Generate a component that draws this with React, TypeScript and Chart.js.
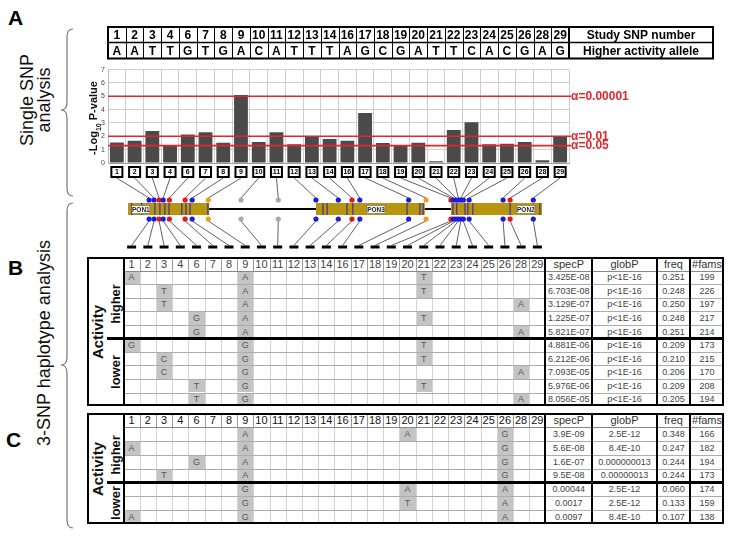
import React, { useEffect, useRef } from 'react';
import { Chart, registerables } from 'chart.js';
Chart.register(...registerables);

// ---------- data ----------
const snpNumbers = ['1','2','3','4','6','7','8','9','10','11','12','13','14','16','17','18','19','20','21','22','23','24','25','26','28','29'];
const higherAlleles = ['A','A','T','T','G','T','G','A','C','A','T','T','T','A','G','C','G','A','T','T','C','A','C','G','A','G'];
const negLogP = [1.53,1.66,2.39,1.3,2.13,2.3,1.52,5.1,1.57,2.3,1.4,2.0,1.79,1.66,3.74,1.5,1.33,1.52,0.13,2.47,3.05,1.4,1.45,1.57,0.2,2.0];
const thresholds = [5, 2, 1.30103];
const alphaLabels = ['α=0.00001', 'α=0.01', 'α=0.05'];
const yTicks = [0,1,2,3,4,5,6,7];

// gene diagram (positions in diagram units 0..1000)
const genes = [
  { name: 'PON1', start: 0, end: 196, label: 31 },
  { name: 'PON3', start: 454, end: 717, label: 599 },
  { name: 'PON2', start: 780, end: 1000, label: 961 },
];
const exonPos = [9,33,65,77,89,99,130,140,150,193,471,481,529,543,674,705,713,785,794,814,821,833,923,995];
const snpGenePos = [51,63,75,85,100,138,155,194,273,363,454,508,541,560,678,720,780,786,792,798,804,810,824,906,923,979];
const snpColor = ['b','b','r','b','r','r','b','o','g','g','b','b','r','b','b','o','r','b','b','b','b','b','b','b','r','b'];

type Haplo = { a: Record<string, string>; specP: string; globP: string; freq: string; fams: string };
const bHigher: Haplo[] = [
  { a: { '1': 'A', '9': 'A', '21': 'T' }, specP: '3.425E-08', globP: 'p<1E-16', freq: '0.251', fams: '199' },
  { a: { '3': 'T', '9': 'A', '21': 'T' }, specP: '6.703E-08', globP: 'p<1E-16', freq: '0.248', fams: '226' },
  { a: { '3': 'T', '9': 'A', '28': 'A' }, specP: '3.129E-07', globP: 'p<1E-16', freq: '0.250', fams: '197' },
  { a: { '6': 'G', '9': 'A', '21': 'T' }, specP: '1.225E-07', globP: 'p<1E-16', freq: '0.248', fams: '217' },
  { a: { '6': 'G', '9': 'A', '28': 'A' }, specP: '5.821E-07', globP: 'p<1E-16', freq: '0.251', fams: '214' },
];
const bLower: Haplo[] = [
  { a: { '1': 'G', '9': 'G', '21': 'T' }, specP: '4.881E-06', globP: 'p<1E-16', freq: '0.209', fams: '173' },
  { a: { '3': 'C', '9': 'G', '21': 'T' }, specP: '6.212E-06', globP: 'p<1E-16', freq: '0.210', fams: '215' },
  { a: { '3': 'C', '9': 'G', '28': 'A' }, specP: '7.093E-05', globP: 'p<1E-16', freq: '0.206', fams: '170' },
  { a: { '6': 'T', '9': 'G', '21': 'T' }, specP: '5.976E-06', globP: 'p<1E-16', freq: '0.209', fams: '208' },
  { a: { '6': 'T', '9': 'G', '28': 'A' }, specP: '8.056E-05', globP: 'p<1E-16', freq: '0.205', fams: '194' },
];
const cHigher: Haplo[] = [
  { a: { '9': 'A', '20': 'A', '26': 'G' }, specP: '3.9E-09', globP: '2.5E-12', freq: '0.348', fams: '166' },
  { a: { '1': 'A', '9': 'A', '26': 'G' }, specP: '5.6E-08', globP: '8.4E-10', freq: '0.247', fams: '182' },
  { a: { '6': 'G', '9': 'A', '26': 'G' }, specP: '1.6E-07', globP: '0.000000013', freq: '0.244', fams: '194' },
  { a: { '3': 'T', '9': 'A', '26': 'G' }, specP: '9.5E-08', globP: '0.00000013', freq: '0.244', fams: '173' },
];
const cLower: Haplo[] = [
  { a: { '9': 'G', '20': 'A', '26': 'A' }, specP: '0.00044', globP: '2.5E-12', freq: '0.060', fams: '174' },
  { a: { '9': 'G', '20': 'T', '26': 'A' }, specP: '0.0017', globP: '2.5E-12', freq: '0.133', fams: '159' },
  { a: { '1': 'A', '9': 'G', '26': 'A' }, specP: '0.0097', globP: '8.4E-10', freq: '0.107', fams: '138' },
];
const statHeaders = ['specP', 'globP', 'freq', '#fams'];

// ---------- layout ----------
const CANVAS_TOP = 20;
const TL = 123.5;   // haplotype table SNP area left
const CW = 16.23;   // haplotype table column width
const T_LEFT = 87;
const T_RIGHT = 724;
const STAT_EDGES = [TL + CW * 26, 592, 657, 690, T_RIGHT];
const GENE_L = 128, GENE_R = 542;
const DOT_COLORS: Record<string, string> = { b: '#1c1cd8', r: '#e01818', o: '#f79a1e', g: '#a9a9a9' };

const overlayPlugin = {
  id: 'overlay',
  afterDatasetsDraw(chart: any) {
    const { ctx, chartArea, scales } = chart;
    const y = scales.y;
    ctx.save();
    thresholds.forEach((t, i) => {
      const py = y.getPixelForValue(t);
      ctx.strokeStyle = '#e3262d';
      ctx.lineWidth = 1.6;
      ctx.beginPath();
      ctx.moveTo(chartArea.left, py);
      ctx.lineTo(chartArea.right + 2, py);
      ctx.stroke();
      ctx.fillStyle = '#e3262d';
      ctx.font = 'bold 12px Arial';
      ctx.textBaseline = 'middle';
      ctx.textAlign = 'left';
      ctx.fillText(alphaLabels[i], chartArea.right + 2, py);
    });
    ctx.restore();
  },
  afterDraw(chart: any) {
    const { ctx, chartArea, scales } = chart;
    const x = scales.x;
    const n = snpNumbers.length;
    const cw = (chartArea.right - chartArea.left) / n;
    ctx.save();
    // ---- top table ----
    const t0 = 27 - CANVAS_TOP, t1 = 42.5 - CANVAS_TOP, t2 = 58.5 - CANVAS_TOP;
    const tRight = chartArea.right + 144;
    ctx.fillStyle = '#fff';
    ctx.fillRect(chartArea.left, t0, tRight - chartArea.left, t2 - t0);
    ctx.strokeStyle = '#000';
    ctx.lineWidth = 1;
    for (let i = 1; i < n; i++) {
      const lx = Math.round(chartArea.left + i * cw) + 0.5;
      ctx.beginPath(); ctx.moveTo(lx, t0); ctx.lineTo(lx, t2); ctx.stroke();
    }
    ctx.lineWidth = 1.5;
    ctx.beginPath(); ctx.moveTo(chartArea.left, t1); ctx.lineTo(tRight, t1); ctx.stroke();
    ctx.lineWidth = 2;
    ctx.beginPath(); ctx.moveTo(chartArea.right, t0); ctx.lineTo(chartArea.right, t2); ctx.stroke();
    ctx.strokeRect(chartArea.left, t0, tRight - chartArea.left, t2 - t0);
    ctx.fillStyle = '#000';
    ctx.textAlign = 'center';
    ctx.textBaseline = 'middle';
    ctx.font = 'bold 12px Arial';
    for (let i = 0; i < n; i++) {
      const cx = x.getPixelForValue(i);
      ctx.fillText(snpNumbers[i], cx, (t0 + t1) / 2 + 1);
      ctx.fillText(higherAlleles[i], cx, (t1 + t2) / 2 + 1);
    }
    const lc = (chartArea.right + tRight) / 2;
    ctx.font = 'bold 12px Arial';
    ctx.fillText('Study SNP number', lc, (t0 + t1) / 2 + 1);
    ctx.fillText('Higher activity allele', lc, (t1 + t2) / 2 + 1);

    // ---- y axis title ----
    ctx.save();
    ctx.translate(93, 118 - CANVAS_TOP);
    ctx.rotate(-Math.PI / 2);
    ctx.font = 'bold 11px Arial';
    const w1 = ctx.measureText('-Log').width;
    const w3 = ctx.measureText(' P-value').width;
    ctx.font = 'bold 7px Arial';
    const w2 = ctx.measureText('10').width;
    let sx = -(w1 + w2 + w3) / 2;
    ctx.textAlign = 'left';
    ctx.textBaseline = 'alphabetic';
    ctx.fillStyle = '#111';
    ctx.font = 'bold 11px Arial';
    ctx.fillText('-Log', sx, 4);
    sx += w1;
    ctx.font = 'bold 7px Arial';
    ctx.fillText('10', sx, 8);
    sx += w2;
    ctx.font = 'bold 11px Arial';
    ctx.fillText(' P-value', sx, 4);
    ctx.restore();

    // ---- SNP boxes ----
    const bTop = chartArea.bottom + 4, bH = 10, bW = 11;
    ctx.textAlign = 'center';
    ctx.textBaseline = 'middle';
    for (let i = 0; i < n; i++) {
      const cx = x.getPixelForValue(i);
      ctx.fillStyle = '#fff';
      ctx.fillRect(cx - bW / 2, bTop, bW, bH);
      ctx.strokeStyle = '#000';
      ctx.lineWidth = 2;
      ctx.strokeRect(cx - bW / 2, bTop, bW, bH);
      ctx.fillStyle = '#000';
      ctx.font = 'bold 7px Arial';
      ctx.fillText(snpNumbers[i], cx, bTop + bH / 2 + 0.5);
    }

    // ---- gene diagram ----
    const gx = (u: number) => GENE_L + (u * (GENE_R - GENE_L)) / 1000;
    const barTop = 203 - CANVAS_TOP, barBot = 215 - CANVAS_TOP;
    const upDot = 200 - CANVAS_TOP, loDot = 219 - CANVAS_TOP;
    const dashY = 245.5 - CANVAS_TOP;
    ctx.strokeStyle = '#3a3a3a';
    ctx.lineWidth = 0.8;
    for (let i = 0; i < n; i++) {
      const cx = x.getPixelForValue(i);
      const dx = gx(snpGenePos[i]);
      ctx.beginPath(); ctx.moveTo(cx, bTop + bH + 1); ctx.lineTo(dx, upDot - 2); ctx.stroke();
      const tx = TL + (i + 0.5) * CW;
      ctx.beginPath(); ctx.moveTo(dx, loDot + 2); ctx.lineTo(tx, dashY); ctx.stroke();
    }
    ctx.strokeStyle = '#000';
    ctx.lineWidth = 2;
    ctx.beginPath(); ctx.moveTo(gx(0), (barTop + barBot) / 2); ctx.lineTo(gx(1000), (barTop + barBot) / 2); ctx.stroke();
    genes.forEach(g => {
      ctx.fillStyle = '#b8950f';
      ctx.fillRect(gx(g.start), barTop, gx(g.end) - gx(g.start), barBot - barTop);
    });
    ctx.strokeStyle = '#4b3690';
    ctx.lineWidth = 1.3;
    exonPos.forEach(u => {
      ctx.beginPath(); ctx.moveTo(gx(u), barTop); ctx.lineTo(gx(u), barBot); ctx.stroke();
    });
    genes.forEach(g => {
      const lx = gx(g.label);
      ctx.fillStyle = '#fff';
      ctx.fillRect(lx - 9, barTop + 2.5, 18, 8);
      ctx.strokeStyle = '#666';
      ctx.lineWidth = 0.6;
      ctx.strokeRect(lx - 9, barTop + 2.5, 18, 8);
      ctx.fillStyle = '#222';
      ctx.font = 'bold 6.5px Arial';
      ctx.textAlign = 'center';
      ctx.textBaseline = 'middle';
      ctx.fillText(g.name, lx, barTop + 6.8);
    });
    for (let i = 0; i < n; i++) {
      const dx = gx(snpGenePos[i]);
      ctx.fillStyle = DOT_COLORS[snpColor[i]];
      [upDot, loDot].forEach(dy => {
        ctx.beginPath(); ctx.arc(dx, dy, 2.6, 0, Math.PI * 2); ctx.fill();
      });
    }
    ctx.fillStyle = '#000';
    for (let i = 0; i < n; i++) {
      const tx = TL + (i + 0.5) * CW;
      ctx.fillRect(tx - 4.5, dashY, 9, 3);
    }
    ctx.restore();
  },
};

// ---------- haplotype table ----------
function HaploTable({ top, rowH, higher, lower, headColor }: { top: number; rowH: number; higher: Haplo[]; lower: Haplo[]; headColor: string }) {
  const rows = [...higher, ...lower];
  const nR = rows.length + 1;
  const height = nR * rowH;
  const els: React.ReactNode[] = [];
  let k = 0;
  const cell = (left: number, y: number, w: number, h: number, text: string, extra: React.CSSProperties) =>
    els.push(
      <div key={k++} style={{ position: 'absolute', left, top: y, width: w, height: h, display: 'flex', alignItems: 'center', justifyContent: 'center', whiteSpace: 'nowrap', ...extra }}>{text}</div>
    );
  const line = (left: number, y: number, w: number, h: number, color: string) =>
    els.push(<div key={k++} style={{ position: 'absolute', left, top: y, width: w, height: h, background: color }} />);

  rows.forEach((h, ri) => {
    const y = top + (ri + 1) * rowH;
    snpNumbers.forEach((s, ci) => {
      const al = h.a[s];
      if (al) cell(TL + ci * CW, y, CW, rowH, al, { background: '#c4c4c4', color: '#555', font: '9px Arial' });
    });
  });
  for (let c = 1; c < 26; c++) {
    line(TL + c * CW, top, 1, rowH, '#9a9a9a');
    line(TL + c * CW, top + rowH, 1, height - rowH, '#d4d4d4');
  }
  for (let r = 1; r < nR; r++) {
    line(TL, top + r * rowH, T_RIGHT - TL, 1, r === 1 ? '#888' : '#adadad');
  }
  snpNumbers.forEach((s, ci) => cell(TL + ci * CW, top, CW, rowH, s, { color: headColor, font: '11px Arial' }));
  statHeaders.forEach((s, i) => cell(STAT_EDGES[i], top, STAT_EDGES[i + 1] - STAT_EDGES[i], rowH, s, { color: '#333', font: '11px Arial' }));
  rows.forEach((h, ri) => {
    const y = top + (ri + 1) * rowH;
    [h.specP, h.globP, h.freq, h.fams].forEach((v, i) =>
      cell(STAT_EDGES[i], y, STAT_EDGES[i + 1] - STAT_EDGES[i], rowH, v, { color: '#444', font: '9px Arial' })
    );
  });
  line(TL - 1, top, 2, height, '#000');
  STAT_EDGES.slice(0, 4).forEach(xe => line(xe - 1, top, 2, height, '#000'));
  const sepY = top + (higher.length + 1) * rowH;
  line(107, sepY - 1, T_RIGHT - 107, 2.5, '#000');
  els.push(<div key={k++} style={{ position: 'absolute', left: T_LEFT, top, width: T_RIGHT - T_LEFT, height, border: '2px solid #000', boxSizing: 'border-box' }} />);
  const rot = (cx: number, cy: number, text: string, font: string) =>
    els.push(
      <div key={k++} style={{ position: 'absolute', left: cx, top: cy, transform: 'translate(-50%,-50%) rotate(-90deg)', font, color: '#111', whiteSpace: 'nowrap', lineHeight: 1 }}>{text}</div>
    );
  rot(97, top + height / 2, 'Activity', 'bold 15px Arial');
  rot(115, (top + rowH + sepY) / 2, 'higher', 'bold 13px Arial');
  rot(115, (sepY + top + height) / 2, 'lower', 'bold 13px Arial');
  return <>{els}</>;
}

export default function App() {
  const ref = useRef<HTMLCanvasElement>(null);
  useEffect(() => {
    const chart = new Chart(ref.current as HTMLCanvasElement, {
      type: 'bar',
      data: {
        labels: snpNumbers,
        datasets: [{ data: negLogP, backgroundColor: '#4a4a4a', borderWidth: 0, barPercentage: 0.78, categoryPercentage: 1 }],
      },
      options: {
        animation: false,
        responsive: false,
        devicePixelRatio: 1,
        layout: { padding: { left: 94, right: 160, top: 49.6, bottom: 89 } },
        plugins: { legend: { display: false }, tooltip: { enabled: false } },
        scales: {
          x: {
            grid: { offset: true, color: '#cdcdcd', drawTicks: false },
            ticks: { display: false },
            border: { color: '#999' },
            afterFit: (s: any) => { s.height = 0; },
          },
          y: {
            min: 0,
            max: 7,
            afterBuildTicks: (s: any) => { s.ticks = yTicks.map(v => ({ value: v })); },
            ticks: { font: { size: 7, family: 'Arial' }, color: '#444', padding: 3 },
            grid: { color: '#cdcdcd', drawTicks: false },
            border: { color: '#bbb' },
            afterFit: (s: any) => { s.width = 14; },
          },
        },
      },
      plugins: [overlayPlugin],
    } as any);
    return () => chart.destroy();
  }, []);

  return (
    <div style={{ position: 'absolute', left: 0, top: 0, width: 729, height: 540, background: '#fff', fontFamily: 'Arial, sans-serif', overflow: 'hidden' }}>
      <svg width={729} height={540} style={{ position: 'absolute', left: 0, top: 0 }}>
        <path d="M73 29 Q67 29 67 37 L67 102 Q67 110 61 110 Q67 110 67 118 L67 188 Q67 196 73 196" fill="none" stroke="#777" strokeWidth={1.2} />
        <path d="M73 203 Q67 203 67 211 L67 357 Q67 365 61 365 Q67 365 67 373 L67 520 Q67 528 73 528" fill="none" stroke="#777" strokeWidth={1.2} />
      </svg>
      <div style={{ position: 'absolute', left: 8, top: 6, font: 'bold 21px Arial', color: '#000' }}>A</div>
      <div style={{ position: 'absolute', left: 8, top: 256, font: 'bold 21px Arial', color: '#000' }}>B</div>
      <div style={{ position: 'absolute', left: 6, top: 428, font: 'bold 21px Arial', color: '#000' }}>C</div>
      <div style={{ position: 'absolute', left: 36, top: 100, transform: 'translate(-50%,-50%) rotate(-90deg)', font: '18px Arial', lineHeight: '17px', textAlign: 'center', whiteSpace: 'nowrap', color: '#111' }}>
        Single SNP<br />analysis
      </div>
      <div style={{ position: 'absolute', left: 44, top: 343, transform: 'translate(-50%,-50%) rotate(-90deg)', font: '18px Arial', whiteSpace: 'nowrap', color: '#111' }}>
        3-SNP haplotype analysis
      </div>
      <canvas ref={ref} width={729} height={232} style={{ position: 'absolute', left: 0, top: CANVAS_TOP, width: 729, height: 232 }} />
      <HaploTable top={257} rowH={13.55} higher={bHigher} lower={bLower} headColor="#444" />
      <HaploTable top={413} rowH={13.88} higher={cHigher} lower={cLower} headColor="#111" />
    </div>
  );
}
